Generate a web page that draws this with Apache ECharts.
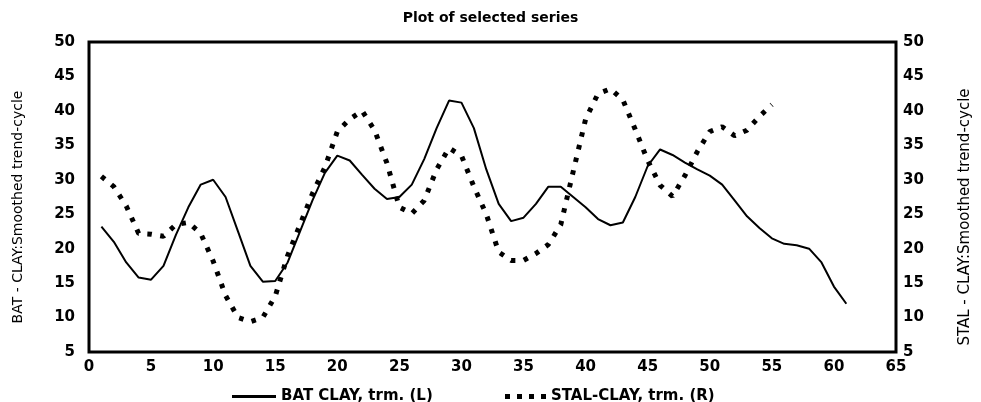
<!DOCTYPE html>
<html>
<head>
<meta charset="utf-8">
<script src="https://cdn.jsdelivr.net/npm/echarts@6/dist/echarts.min.js"></script>
<style>
  html, body { margin: 0; padding: 0; background: #fff; }
  #chart { width: 981px; height: 402px; }
</style>
</head>
<body>
<div id="chart"></div>
<script>
const titleText = 'Plot of selected series';
const leftName = 'BAT - CLAY:Smoothed trend-cycle';
const rightName = 'STAL - CLAY:Smoothed trend-cycle';
const batLabel = 'BAT CLAY, trm. (L)';
const stalLabel = 'STAL-CLAY, trm. (R)';

// first x of each series, one value per unit step after that
const batStart = 1;
const bat = [
  23.2, 21.0, 18.0, 15.8, 15.5, 17.5, 22.0, 26.0, 29.3, 30.0,
  27.5, 22.5, 17.5, 15.2, 15.3, 18.0, 22.5, 27.0, 31.0, 33.5,
  32.8, 30.7, 28.7, 27.2, 27.5, 29.3, 33.0, 37.5, 41.5, 41.2,
  37.5, 31.5, 26.5, 24.0, 24.5, 26.5, 29.0, 29.0, 27.5, 26.0,
  24.3, 23.4, 23.8, 27.5, 32.0, 34.4, 33.6, 32.5, 31.5, 30.6,
  29.3, 27.0, 24.7, 23.0, 21.5, 20.7, 20.5, 20.0, 18.0, 14.5,
  12.0
];

const stalStart = 1;
const stal = [
  30.5, 29.0, 26.2, 22.2, 22.1, 21.8, 23.5, 23.8, 22.2, 18.2,
  13.2, 10.0, 9.4, 10.0, 13.1, 19.0, 23.5, 28.0, 31.8, 37.0,
  38.8, 40.0, 37.2, 32.4, 26.0, 25.1, 27.0, 31.5, 34.6, 33.5,
  29.0, 25.0, 19.5, 18.3, 18.3, 19.3, 20.6, 23.5, 31.2, 38.8,
  42.5, 43.2, 41.6, 37.3, 32.8, 29.2, 27.6, 30.6, 34.1, 37.0,
  37.7, 36.4, 37.2, 39.2, 40.9
];

const xMin = 0, xMax = 65, xStep = 5;
const yMin = 5, yMax = 50, yStep = 5;

const font = 'DejaVu Sans';

const chart = echarts.init(document.getElementById('chart'));

const yAxisBase = {
  type: 'value',
  min: yMin,
  max: yMax,
  interval: yStep,
  splitLine: { show: false },
  axisLine: { show: false },
  axisTick: { show: false },
  nameLocation: 'middle',
  nameRotate: 90,
  axisLabel: { fontFamily: font, fontWeight: 'bold', fontSize: 15, color: '#000' }
};

chart.setOption({
  animation: false,
  backgroundColor: '#fff',
  title: {
    text: titleText,
    left: 'center',
    top: 6,
    textStyle: { fontFamily: font, fontWeight: 'bold', fontSize: 14, color: '#000' }
  },
  grid: {
    left: 89, right: 80, top: 42, bottom: 50,
    show: true, borderColor: '#000', borderWidth: 3
  },
  legend: [
    {
      data: [{ name: batLabel, icon: 'path://M0,0H44V3H0Z' }],
      left: 227, top: 384,
      itemWidth: 44, itemHeight: 3,
      textStyle: { fontFamily: font, fontWeight: 'bold', fontSize: 15, color: '#000' }
    },
    {
      data: [{ name: stalLabel, icon: 'path://M0,0H5V5H0Z M12,0H17V5H12Z M24,0H29V5H24Z M36,0H41V5H36Z' }],
      left: 500, top: 384,
      itemWidth: 41, itemHeight: 5,
      textStyle: { fontFamily: font, fontWeight: 'bold', fontSize: 15, color: '#000' }
    }
  ],
  xAxis: {
    type: 'value',
    min: xMin,
    max: xMax,
    interval: xStep,
    splitLine: { show: false },
    axisLine: { show: false },
    axisTick: { show: false },
    axisLabel: { fontFamily: font, fontWeight: 'bold', fontSize: 15, color: '#000', margin: 8 }
  },
  yAxis: [
    Object.assign({}, yAxisBase, {
      position: 'left',
      name: leftName,
      nameGap: 64,
      nameTextStyle: { fontFamily: font, fontSize: 14, color: '#000', padding: [0, 20, 0, 0] },
      axisLabel: Object.assign({}, yAxisBase.axisLabel, { margin: 14 })
    }),
    Object.assign({}, yAxisBase, {
      position: 'right',
      name: rightName,
      nameGap: 62,
      nameTextStyle: { fontFamily: font, fontSize: 15, color: '#000', padding: [0, 40, 0, 0] },
      axisLabel: Object.assign({}, yAxisBase.axisLabel, { margin: 7 })
    })
  ],
  series: [
    {
      name: batLabel,
      type: 'line',
      yAxisIndex: 0,
      showSymbol: false,
      symbol: 'none',
      lineStyle: { color: '#000', width: 2 },
      itemStyle: { color: '#000' },
      data: bat.map((v, i) => [i + batStart, v])
    },
    {
      name: stalLabel,
      type: 'line',
      yAxisIndex: 1,
      showSymbol: false,
      symbol: 'none',
      lineStyle: { color: '#000', width: 5, type: [4.5, 8.5], cap: 'butt' },
      itemStyle: { color: '#000' },
      data: stal.map((v, i) => [i + stalStart, v])
    }
  ]
});
</script>
</body>
</html>
